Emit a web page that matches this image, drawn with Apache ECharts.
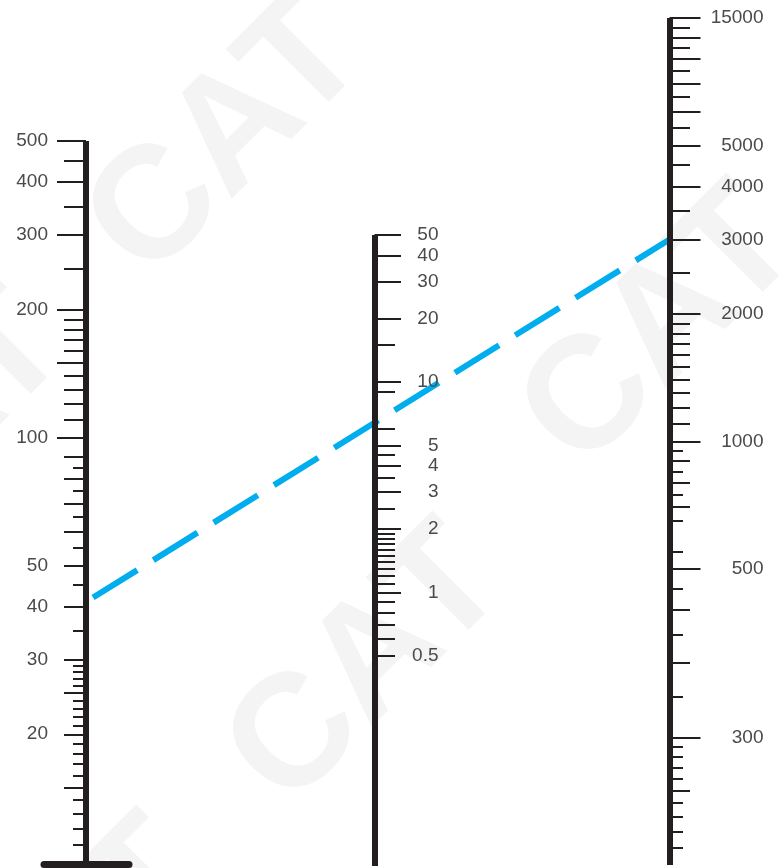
<!DOCTYPE html>
<html>
<head>
<meta charset="utf-8">
<title>Nomogram</title>
<script src="https://cdn.jsdelivr.net/npm/echarts@6/dist/echarts.min.js"></script>
<style>
  html, body { margin: 0; padding: 0; background: #ffffff; }
  #chart { width: 782px; height: 868px; }
</style>
</head>
<body>
<div id="chart"></div>
<script>
// ---- Scale graduations (all three scales are logarithmic) ----
const leftRange = [10, 500];
const leftLabels = [500, 400, 300, 200, 100, 50, 40, 30, 20];
const leftMajorTicks = [500, 400, 300, 200, 150, 100];
const leftMidTicks = [450, 350, 250, 190, 180, 170, 160, 140, 130, 120, 110,
                      90, 80, 70, 60, 50, 40, 30, 25, 20, 15];
const leftMinorTicks = [85, 75, 65, 55, 45, 35, 29, 28, 27, 26, 24, 23, 22, 21,
                        19, 18, 17, 16, 14, 13, 12, 11];

const midRange = [0.05, 50];
const midLabels = [50, 40, 30, 20, 10, 5, 4, 3, 2, 1, 0.5];
const midMajorTicks = [50, 40, 30, 20, 10, 5, 4, 3, 2, 1];
const midMinorTicks = [15, 9, 6, 4.5, 3.5, 2.5, 1.9, 1.8, 1.7, 1.6, 1.5, 1.4,
                       1.3, 1.2, 1.1, 0.9, 0.8, 0.7, 0.6, 0.5];

const rightRange = [100, 10000];
const rightLabelAt = [10000, 5000, 4000, 3000, 2000, 1000, 500, 200];
const rightLabelText = ['15000', '5000', '4000', '3000', '2000', '1000', '500', '300'];
const rightMajorTicks = [10000, 9000, 8000, 7000, 6000, 5000, 4000, 3000, 2000, 1000, 500, 200];
const rightMidTicks = [9500, 8500, 7500, 6500, 5500, 4500, 3500, 2500,
                       1900, 1800, 1700, 1600, 1500, 1400, 1300, 1200, 1100,
                       900, 800, 700, 400, 300, 150];
const rightMinorTicks = [950, 850, 750, 650, 550, 450, 350, 250,
                         190, 180, 170, 160, 140, 130, 120, 110];

// ---- The reading drawn across the nomogram ----
const readingLeft = 41;
const readingRight = 3000;

// ---- Styling ----
const INK = '#231f20';
const TEXT = '#4a4a4a';
const FONT = 'Liberation Sans, Arial, Helvetica, sans-serif';
const BLUE = '#00aeef';

const lg = Math.log10;

function labelLookup(values, texts) {
  return function (v) {
    for (let i = 0; i < values.length; i++) {
      if (Math.abs(lg(values[i]) - v) < 1e-6) return texts[i];
    }
    return '';
  };
}

function tickAxis(gridIndex, range, position, ticks, length) {
  return {
    type: 'value',
    gridIndex: gridIndex,
    position: position,
    min: lg(range[0]),
    max: lg(range[1]),
    z: 4,
    axisLine: { show: false, onZero: false },
    splitLine: { show: false },
    axisLabel: { show: false },
    axisTick: {
      show: true,
      length: length,
      customValues: ticks.map(lg),
      lineStyle: { color: INK, width: 2 }
    }
  };
}

function mainAxis(gridIndex, range, position, ticks, length, labelCfg) {
  const ax = tickAxis(gridIndex, range, position, ticks, length);
  ax.z = 5;
  ax.axisLine = { show: true, onZero: false, lineStyle: { color: INK, width: 6, cap: 'butt' } };
  ax.axisLabel = labelCfg;
  return ax;
}

const leftFmt = labelLookup(leftLabels, leftLabels.map(String));
const midFmt = labelLookup(midLabels, midLabels.map(String));
const rightFmt = labelLookup(rightLabelAt, rightLabelText);

const labelFont = { color: TEXT, fontFamily: FONT, fontSize: 19 };

const yAxes = [
  // 0-2: left scale
  mainAxis(0, leftRange, 'left', leftMajorTicks, 29, Object.assign({
    show: true, margin: 38,
    customValues: leftLabels.map(lg),
    formatter: leftFmt
  }, labelFont)),
  tickAxis(0, leftRange, 'left', leftMidTicks, 22),
  tickAxis(0, leftRange, 'left', leftMinorTicks, 13),
  // 3-4: middle scale
  mainAxis(1, midRange, 'right', midMajorTicks, 26.5, Object.assign({
    show: true, margin: 33,
    customValues: midLabels.map(lg),
    formatter: function (v) { return '{v|' + midFmt(v) + '}'; },
    rich: { v: Object.assign({ width: 31, align: 'right' }, labelFont) }
  }, labelFont)),
  tickAxis(1, midRange, 'right', midMinorTicks, 20.5),
  // 5-7: right scale
  mainAxis(2, rightRange, 'right', rightMajorTicks, 31, Object.assign({
    show: true, margin: 38,
    customValues: rightLabelAt.map(lg),
    formatter: function (v) { return '{v|' + rightFmt(v) + '}'; },
    rich: { v: Object.assign({ width: 56, align: 'right' }, labelFont) }
  }, labelFont)),
  tickAxis(2, rightRange, 'right', rightMidTicks, 20.5),
  tickAxis(2, rightRange, 'right', rightMinorTicks, 13.5),
  // 8: companion axis of the foot grid
  { type: 'value', gridIndex: 3, min: 0, max: 1, show: false }
];

const hiddenX = function (gi) {
  return { type: 'value', gridIndex: gi, min: 0, max: 1, show: false };
};

// Faint "CAT" marks in the background
const marks = [[228, 140], [662, 330], [368, 668], [-70, 432], [72, 962]];
const graphics = marks.map(function (p) {
  return {
    type: 'text',
    x: p[0], y: p[1],
    rotation: Math.PI / 4,
    z: -10,
    silent: true,
    style: {
      text: 'CAT',
      fill: '#f4f4f4',
      font: 'bold 160px ' + FONT,
      textAlign: 'center',
      textVerticalAlign: 'middle'
    }
  };
});

const chart = echarts.init(document.getElementById('chart'), null, { renderer: 'canvas' });

const option = {
  animation: false,
  backgroundColor: '#ffffff',
  graphic: graphics,
  grid: [
    { left: 86, right: 112.5, top: 141, bottom: 6 },     // left scale + reading line
    { left: 300, right: 407.5, top: 235, bottom: 2 },    // middle scale
    { left: 600, right: 112.5, top: 18, bottom: 3 },     // right scale
    { left: 44, right: 653, top: 800, bottom: 4 }        // foot of the left scale
  ],
  xAxis: [
    hiddenX(0), hiddenX(1), hiddenX(2),
    {
      type: 'value', gridIndex: 3, min: 0, max: 1, position: 'bottom',
      axisLine: { show: true, onZero: false, lineStyle: { color: INK, width: 7 } },
      axisTick: { show: false }, axisLabel: { show: false }, splitLine: { show: false }
    }
  ],
  yAxis: yAxes,
  series: [{
    type: 'line',
    xAxisIndex: 0,
    yAxisIndex: 0,
    z: 2,
    symbol: 'none',
    silent: true,
    data: [],
    lineStyle: { color: BLUE, width: 6, type: [52, 19], dashOffset: 62.7, cap: 'butt' }
  }]
};

chart.setOption(option);

// Carry the right-scale reading onto the left scale's coordinates so the
// reading line can be drawn as one straight series.
const rightPx = chart.convertToPixel({ yAxisIndex: 5 }, lg(readingRight));
const rightOnLeft = chart.convertFromPixel({ yAxisIndex: 0 }, rightPx);

chart.setOption({
  series: [{ data: [[0, lg(readingLeft)], [1, rightOnLeft]] }]
});
</script>
</body>
</html>
